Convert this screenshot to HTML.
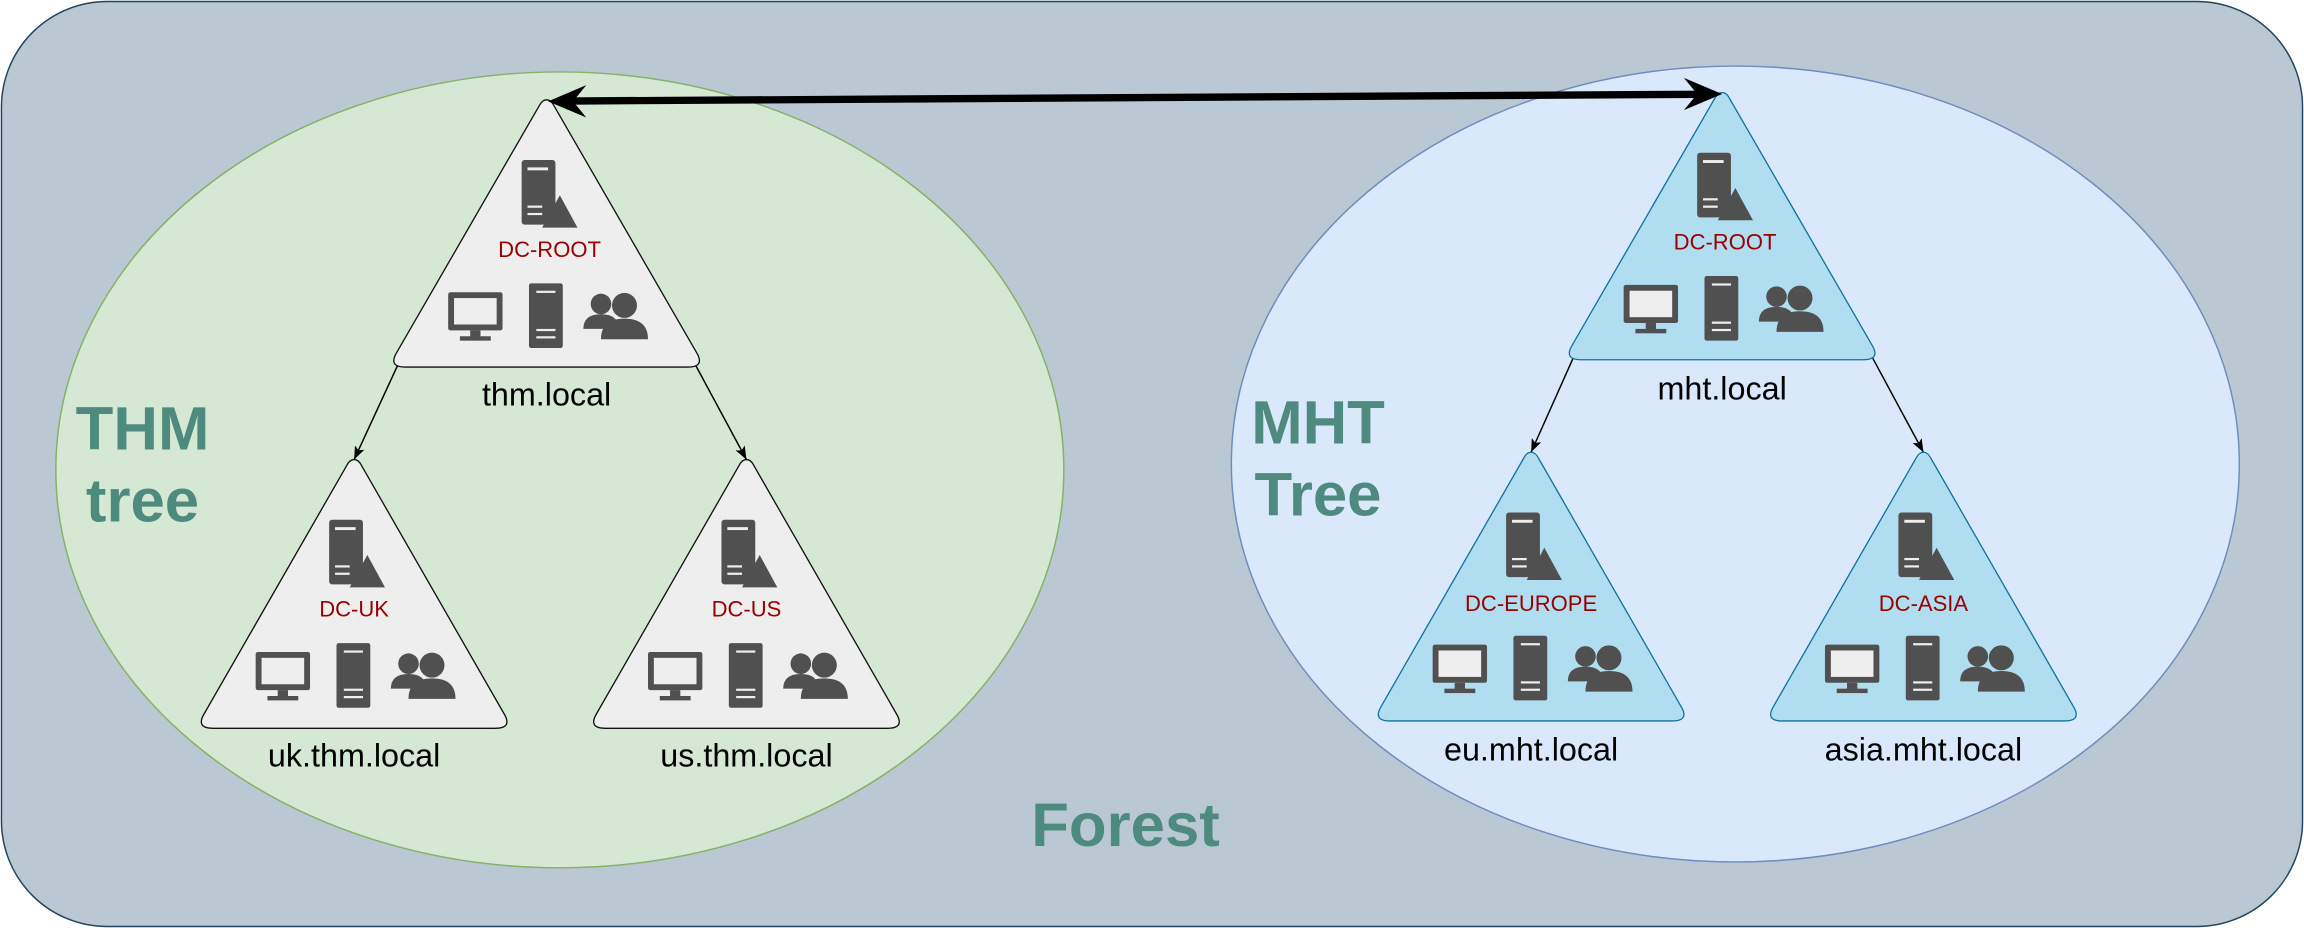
<!DOCTYPE html>
<html><head><meta charset="utf-8"><style>
html,body{margin:0;padding:0;background:#fff;}
svg{display:block;}
text{font-family:"Liberation Sans",Arial,sans-serif;}
</style></head><body>
<svg width="2304" height="928" viewBox="0 0 1568 632" preserveAspectRatio="none" xmlns="http://www.w3.org/2000/svg">
<defs>
<g id="icons">
  <rect x="-17" y="41" width="23" height="44" rx="2" fill="#505050"/>
  <rect x="-13" y="46" width="14" height="2" fill="#eee"/>
  <rect x="-13" y="72" width="10" height="1.5" fill="#eee"/>
  <rect x="-13" y="77" width="10" height="1.5" fill="#eee"/>
  <polygon points="-3,87 21,87 9,65" fill="#505050"/>
  <rect x="-67" y="131" width="37" height="26" rx="1.5" fill="#505050"/>
  <rect x="-63" y="135" width="29" height="18" fill="#eee"/>
  <rect x="-52" y="157" width="7" height="5" fill="#505050"/>
  <rect x="-59" y="161" width="21" height="3" fill="#505050"/>
  <rect x="-12" y="125" width="23" height="44" rx="1.5" fill="#505050"/>
  <rect x="-7" y="130" width="13" height="1.5" fill="#eee"/>
  <rect x="-7" y="156" width="13" height="1.5" fill="#eee"/>
  <rect x="-7" y="161" width="13" height="1.5" fill="#eee"/>
  <circle cx="37" cy="139" r="7" fill="#505050"/>
  <path d="M25,156 Q25,146 37,146 Q49,146 49,156 Z" fill="#505050"/>
  <circle cx="53" cy="140" r="8.5" fill="#505050"/>
  <path d="M37,163 Q37,149 53,149 Q69,149 69,163 Z" fill="#505050"/>
</g>
<marker id="ah" markerWidth="10" markerHeight="10" refX="9" refY="5" orient="auto" markerUnits="userSpaceOnUse">
  <path d="M0,1.5 L9,5 L0,8.5 L2,5 Z" fill="#000"/>
</marker>
</defs>
<rect x="1" y="1" width="1566" height="630" rx="72" fill="#bac8d3" stroke="#23445d" stroke-width="1"/>
<ellipse cx="381" cy="320" rx="343" ry="271" fill="#d5e8d4" stroke="#82b366"/>
<ellipse cx="1181" cy="316" rx="343" ry="271" fill="#dae8fc" stroke="#6c8ebf"/>

<line x1="271" y1="248" x2="241" y2="313" stroke="#000" stroke-width="1" marker-end="url(#ah)"/>
<line x1="473" y1="248" x2="508" y2="313" stroke="#000" stroke-width="1" marker-end="url(#ah)"/>
<line x1="1071" y1="243" x2="1042" y2="308" stroke="#000" stroke-width="1" marker-end="url(#ah)"/>
<line x1="1274" y1="243" x2="1309" y2="308" stroke="#000" stroke-width="1" marker-end="url(#ah)"/>

<g stroke-linejoin="round">
<path d="M372,68 Q375,68 377,72 L474,240 Q480,250 468,250 L276,250 Q264,250 270,240 L367,72 Q369,68 372,68 Z" fill="#eeeeee" stroke="#111" stroke-width="0.9"/>
<path d="M241,313 Q244,313 246,317 L343,486 Q349,496 337,496 L145,496 Q133,496 139,486 L236,317 Q238,313 241,313 Z" fill="#eeeeee" stroke="#111" stroke-width="0.9"/>
<path d="M508,313 Q511,313 513,317 L610,486 Q616,496 604,496 L412,496 Q400,496 406,486 L503,317 Q505,313 508,313 Z" fill="#eeeeee" stroke="#111" stroke-width="0.9"/>
<path d="M1172,63 Q1175,63 1177,67 L1274,235 Q1280,245 1268,245 L1076,245 Q1064,245 1070,235 L1167,67 Q1169,63 1172,63 Z" fill="#b1ddf0" stroke="#10739e" stroke-width="0.9"/>
<path d="M1042,308 Q1045,308 1047,312 L1144,481 Q1150,491 1138,491 L946,491 Q934,491 940,481 L1037,312 Q1039,308 1042,308 Z" fill="#b1ddf0" stroke="#10739e" stroke-width="0.9"/>
<path d="M1309,308 Q1312,308 1314,312 L1411,481 Q1417,491 1405,491 L1213,491 Q1201,491 1207,481 L1304,312 Q1306,308 1309,308 Z" fill="#b1ddf0" stroke="#10739e" stroke-width="0.9"/>
</g>

<use href="#icons" x="372" y="68"/>
<use href="#icons" x="241" y="313"/>
<use href="#icons" x="508" y="313"/>
<use href="#icons" x="1172" y="63"/>
<use href="#icons" x="1042" y="308"/>
<use href="#icons" x="1309" y="308"/>

<line x1="385" y1="68.8" x2="1160" y2="64.2" stroke="#000" stroke-width="5"/>
<path d="M373,69 L399,58 L390,69 L399,80 Z" fill="#000"/>
<path d="M1172,64 L1146,53 L1155,64 L1146,75 Z" fill="#000"/>

<g fill="#990000" font-size="15" text-anchor="middle">
<text x="374" y="175">DC-ROOT</text>
<text x="241" y="420">DC-UK</text>
<text x="508" y="420">DC-US</text>
<text x="1174" y="170">DC-ROOT</text>
<text x="1042" y="416">DC-EUROPE</text>
<text x="1309" y="416">DC-ASIA</text>
</g>
<g fill="#000" font-size="22" text-anchor="middle">
<text x="372" y="276">thm.local</text>
<text x="241" y="522">uk.thm.local</text>
<text x="508" y="522">us.thm.local</text>
<text x="1172" y="272">mht.local</text>
<text x="1042" y="518">eu.mht.local</text>
<text x="1309" y="518">asia.mht.local</text>
</g>
<g fill="#4f8a7e" font-size="42" font-weight="bold" text-anchor="middle">
<text x="97" y="306">THM</text>
<text x="97" y="355">tree</text>
<text x="897" y="302">MHT</text>
<text x="897" y="351">Tree</text>
<text x="766" y="576">Forest</text>
</g>
</svg>
</body></html>
